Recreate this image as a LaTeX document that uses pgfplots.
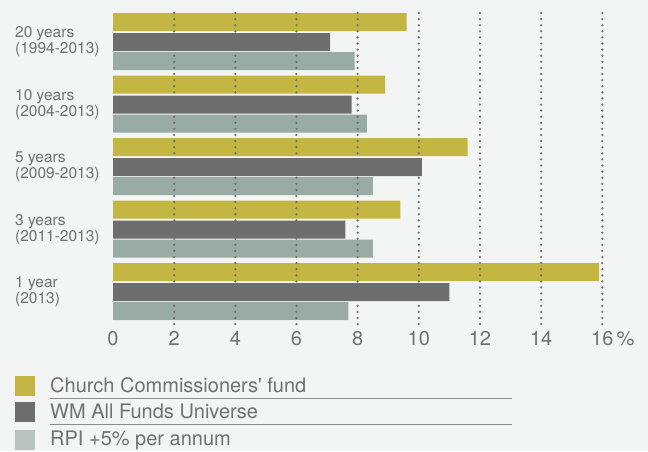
\documentclass[border=0pt]{standalone}
\usepackage{fontspec}
\setmainfont{TeX Gyre Heros}
\newfontfamily\nomap{TeX Gyre Heros}
\usepackage{pgfplots}
\pgfplotsset{compat=1.18}
\definecolor{bg}{HTML}{F3F5F4}
\definecolor{cc}{HTML}{C4B642}
\definecolor{wm}{HTML}{6E6E6E}
\definecolor{rpi}{HTML}{99ABA5}
\definecolor{rpil}{HTML}{B8C3BF}
\definecolor{txt}{HTML}{717171}
\definecolor{rulec}{HTML}{8C8C8C}
\begin{document}
\begin{tikzpicture}[x=1pt,y=1pt]
\fill[bg] (0,0) rectangle (648,451);
\begin{axis}[
  at={(113pt,125pt)}, anchor=south west,
  scale only axis, width=489.3pt, height=313pt,
  xmin=0, xmax=16, ymin=13, ymax=326, y dir=reverse,
  axis line style={draw=none},
  major tick length=0pt,
  xtick={2,4,...,16},
  xticklabels={2,4,6,8,10,12,14,{16\rlap{\,\%}}},
  extra x ticks={0}, extra x tick labels={0},
  extra x tick style={grid=none},
  xmajorgrids,
  major grid style={draw=wm, line width=2.5pt, line cap=round, dash pattern=on 0pt off 6.1pt},
  axis on top,
  xticklabel style={font=\fontsize{20}{20}\selectfont, text=txt, inner sep=0pt, yshift=-5pt},
  ytick={42,104.5,167,229.5,292},
  yticklabels={{20 years\\(1994-2013)},{10 years\\(2004-2013)},{5 years\\(2009-2013)},{3 years\\(2011-2013)},{1 year\\(2013)}},
  yticklabel style={anchor=west, align=left, inner sep=0pt, xshift=-98pt, font=\fontsize{15.5}{16}\selectfont, text=txt},
  /pgf/number format/assume math mode=true,
  clip=false,
]
\addplot[xbar, bar shift=0pt, bar width=18, fill=cc, draw=none]
  coordinates {(9.6,22) (8.9,84.5) (11.6,147) (9.4,209.5) (15.9,272)};
\addplot[xbar, bar shift=0pt, bar width=18, fill=wm, draw=none]
  coordinates {(7.1,42) (7.8,104.5) (10.1,167) (7.6,229.5) (11.0,292)};
\addplot[xbar, bar shift=0pt, bar width=18, fill=rpi, draw=none]
  coordinates {(7.9,61) (8.3,123.5) (8.5,186) (8.5,248.5) (7.7,311)};
\end{axis}
% legend
\fill[cc] (15,55) rectangle (35,75);
\fill[wm] (15,29) rectangle (35,49);
\fill[rpil] (15,1) rectangle (35,21);
\begin{scope}[every node/.style={anchor=base west, inner sep=0pt, text=txt, font=\fontsize{20}{20}\selectfont}]
\node at (50,59) {Church Commissioners{\nomap'} fund};
\node at (50,33) {WM All Funds Universe};
\node at (50,6) {RPI +5\% per annum};
\end{scope}
\draw[rulec, line width=1pt] (50,53) -- (512,53);
\draw[rulec, line width=1pt] (50,27) -- (512,27);
\end{tikzpicture}
\end{document}
